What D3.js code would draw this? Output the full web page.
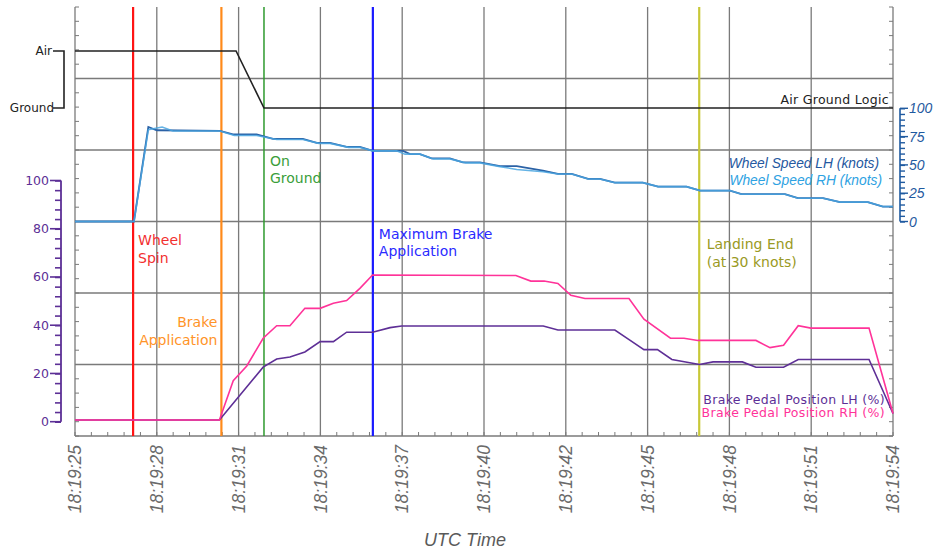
<!DOCTYPE html>
<html><head><meta charset="utf-8">
<script src="https://cdn.jsdelivr.net/npm/d3@7"></script>
<style>
html,body{margin:0;padding:0;background:#fff;}
svg{display:block;}
</style></head>
<body>
<svg id="chart" width="937" height="551"></svg>
<script>
// ---------- DATA ----------
const xTickLabels = ["18:19:25","18:19:28","18:19:31","18:19:34","18:19:37","18:19:40","18:19:42","18:19:45","18:19:48","18:19:51","18:19:54"];
const xTickSeconds = [0,2.9,5.8,8.7,11.6,14.5,17.4,20.3,23.2,26.1,29];

const airGroundTime = [0, 5.71, 6.70, 29];
const airGroundVal  = [1, 1, 0, 0];   // 1 = Air, 0 = Ground

const wheelLHTime = [0,2.09,2.60,2.90,5.14,5.60,6.44,7.02,8.08,8.57,9.04,9.63,10.10,10.56,11.63,11.88,12.23,12.64,13.29,13.75,14.36,15.07,15.66,16.59,17.12,17.61,18.19,18.61,19.14,20.13,20.67,21.68,22.16,23.22,23.63,25.17,25.63,26.52,27.12,28.11,28.64,29];
const wheelLH     = [0,0,83.5,80.6,80,76.9,76.9,73,73,69.5,69.5,66,66,62.4,62.4,59.5,59.5,55.8,55.8,52.2,52.2,49,49,44.9,42,42,37.6,37.6,34.3,34.3,30.8,30.8,27.3,27.3,24.1,24.1,20.6,20.6,17.1,17.1,13.2,13.2];
const wheelRHTime = [0,2.09,2.60,3.09,3.47,5.14,5.65,6.44,7.15,8.08,8.65,9.04,9.70,10.10,10.56,11.40,11.70,12.23,12.70,13.29,13.85,14.36,15.07,15.66,16.59,17.12,17.61,18.19,18.61,19.14,20.13,20.67,21.68,22.16,23.22,23.63,25.17,25.63,26.52,27.12,28.11,28.64,29];
const wheelRH     = [0,0,81.1,83.5,80,80,76,76,72.5,72.5,69,69,65.5,65.5,62.4,62.4,59.5,59.5,55.3,55.3,51.8,51.8,48.5,46,44,42,42,37.6,37.6,34.3,34.3,30.8,30.8,27.3,27.3,24.1,24.1,20.6,20.6,17.1,17.1,13.2,13.2];

const brakeRHTime = [0,5.12,5.61,6.09,6.67,7.15,7.62,8.15,8.69,9.16,9.63,10.10,10.55,15.63,16.16,16.63,17.12,17.58,18.08,19.64,20.17,21.11,21.59,22.08,24.14,24.64,25.12,25.64,26.09,28.15,29];
const brakeRH     = [0.7,0.7,17.0,23.1,34.6,39.8,39.8,47.0,47.0,49.1,50.2,55.3,60.8,60.6,58.3,58.3,57.3,52.4,51.1,51.1,42.5,34.6,34.6,33.7,33.7,30.7,31.7,39.8,38.8,38.8,3.4];
const brakeLHTime = [0,5.12,6.67,7.15,7.62,8.15,8.69,9.16,9.63,10.55,11.17,11.58,16.60,17.12,19.14,19.63,20.17,20.65,21.16,22.14,22.62,23.66,24.14,25.12,25.64,28.15,29];
const brakeLH     = [0.7,0.7,22.6,26.0,26.8,28.9,33.2,33.2,37.1,37.1,39.0,39.7,39.7,38.0,38.0,34.1,29.9,29.9,25.8,23.7,24.8,24.8,22.6,22.6,25.8,25.8,3.4];

const eventNames = ["Wheel\nSpin","Brake\nApplication","On\nGround","Maximum Brake\nApplication","Landing End\n(at 30 knots)"];
const eventTimes = [2.06, 5.19, 6.70, 10.56, 22.13];

const brakeAxisTicks = [0,20,40,60,80,100];
const wheelAxisTicks = [0,25,50,75,100];

// ---------- SCALES ----------
const svg = d3.select("#chart");
const x = d3.scaleLinear().domain([0,29]).range([75,893]);
const yFrame = d3.scaleLinear().domain([0,6]).range([436,7]);
const yAG = d3.scaleLinear().domain([0,1]).range([108,51]);
const yWheel = d3.scaleLinear().domain([0,100]).range([221.5,108.3]);
const yBrake = d3.scaleLinear().domain([0,100]).range([421.7,180.5]);

const gridColor = "#7a7a7a";
const DV = "'DejaVu Sans', Verdana, sans-serif";
const LS = "'Liberation Sans', Arial, sans-serif";

// ---------- GRID ----------
const grid = svg.append("g");
grid.selectAll("line.v").data(xTickSeconds).join("line")
  .attr("x1", d=>x(d)).attr("x2", d=>x(d))
  .attr("y1", yFrame(6)).attr("y2", yFrame(0))
  .attr("stroke", gridColor).attr("stroke-width", 1.3);
grid.selectAll("line.h").data([0,1,2,3,4,5]).join("line")
  .attr("x1", x(0)).attr("x2", x(29))
  .attr("y1", d=>yFrame(d)).attr("y2", d=>yFrame(d))
  .attr("stroke", gridColor).attr("stroke-width", 1.3);

const minorX = d3.range(0,51).map(i=>i*29/50);
grid.selectAll("line.mb").data(minorX).join("line")
  .attr("x1", d=>x(d)).attr("x2", d=>x(d))
  .attr("y1", yFrame(0)).attr("y2", yFrame(0)-4)
  .attr("stroke", gridColor).attr("stroke-width", 1);
const minorY = d3.range(0,31).map(i=>i/5);
grid.selectAll("line.ml").data(minorY).join("line")
  .attr("x1", x(0)).attr("x2", x(0)+4)
  .attr("y1", d=>yFrame(d)).attr("y2", d=>yFrame(d))
  .attr("stroke", gridColor).attr("stroke-width", 1);
grid.selectAll("line.mr").data(minorY).join("line")
  .attr("x1", x(29)).attr("x2", x(29)-4)
  .attr("y1", d=>yFrame(d)).attr("y2", d=>yFrame(d))
  .attr("stroke", gridColor).attr("stroke-width", 1);

// ---------- EVENT LINES ----------
const evLineColors = ["#ff1414","#ff8a1a","#2e9a2e","#1a1aff","#c8c838"];
const evTextColors = ["#f23030","#ff9428","#3a9e3a","#2a2aff","#9a9a24"];
svg.append("g").selectAll("line").data(eventTimes).join("line")
  .attr("x1", d=>x(d)).attr("x2", d=>x(d))
  .attr("y1", yFrame(6)).attr("y2", yFrame(0))
  .attr("stroke", (d,i)=>evLineColors[i])
  .attr("stroke-width", (d,i)=> i===2 ? 1.5 : 2.2);

// ---------- DATA LINES ----------
const line = (xs, ys, yScale) => d3.line().x((d,i)=>x(xs[i])).y((d,i)=>yScale(ys[i]))(ys);

svg.append("path").attr("d", line(airGroundTime, airGroundVal, yAG))
  .attr("fill","none").attr("stroke","#222").attr("stroke-width",1.6);

svg.append("path").attr("d", line(wheelLHTime, wheelLH, yWheel))
  .attr("fill","none").attr("stroke","#2b62a6").attr("stroke-width",1.8);
svg.append("path").attr("d", line(wheelRHTime, wheelRH, yWheel))
  .attr("fill","none").attr("stroke","#4aa6e0").attr("stroke-width",1.6).attr("opacity",0.85);

svg.append("path").attr("d", line(brakeLHTime, brakeLH, yBrake))
  .attr("fill","none").attr("stroke","#5e2f96").attr("stroke-width",1.6);
svg.append("path").attr("d", line(brakeRHTime, brakeRH, yBrake))
  .attr("fill","none").attr("stroke","#ff3399").attr("stroke-width",1.6);

// ---------- EVENT TEXT ----------
const evPos = [
  {dx: 5, anchor:"start", y: 245},
  {dx: -4, anchor:"end", y: 327},
  {dx: 6, anchor:"start", y: 165.5},
  {dx: 6, anchor:"start", y: 238.5},
  {dx: 7.5, anchor:"start", y: 249}
];
eventNames.forEach((name,i)=>{
  const t = svg.append("text")
    .attr("x", x(eventTimes[i]) + evPos[i].dx).attr("y", evPos[i].y)
    .attr("text-anchor", evPos[i].anchor)
    .attr("font-family", DV).attr("font-size", 14)
    .attr("fill", evTextColors[i]);
  name.split("\n").forEach((s,j)=>{
    t.append("tspan").attr("x", x(eventTimes[i]) + evPos[i].dx)
      .attr("dy", j===0 ? 0 : 17.5).text(s);
  });
});

// ---------- AIR/GROUND AXIS ----------
svg.append("path")
  .attr("d", `M53,${yAG(1)}H64V${yAG(0)}H53`)
  .attr("fill","none").attr("stroke","#222").attr("stroke-width",1.6);
svg.append("text").attr("x",52).attr("y",yAG(1)).attr("dy","0.35em")
  .attr("text-anchor","end").attr("font-family",DV).attr("font-size",12).attr("fill","#222").text("Air");
svg.append("text").attr("x",54).attr("y",yAG(0)).attr("dy","0.35em")
  .attr("text-anchor","end").attr("font-family",DV).attr("font-size",12).attr("fill","#222").text("Ground");
svg.append("text").attr("x",889).attr("y",103.5)
  .attr("text-anchor","end").attr("font-family",DV).attr("font-size",12.5).attr("letter-spacing",0.3)
  .attr("fill","#222").text("Air Ground Logic");

// ---------- BRAKE AXIS (left, purple) ----------
const purple = "#5c2f96";
const bAxis = svg.append("g").attr("transform","translate(61,0)")
  .call(d3.axisLeft(yBrake).tickValues(d3.range(0,101,4)).tickSize(6).tickFormat(""));
bAxis.select(".domain").remove();
bAxis.selectAll("line").attr("stroke",purple).attr("stroke-width",1.6);
svg.append("line").attr("x1",61).attr("x2",61).attr("y1",yBrake(100)).attr("y2",yBrake(0))
  .attr("stroke",purple).attr("stroke-width",1.8);
svg.append("g").selectAll("line").data(brakeAxisTicks).join("line")
  .attr("x1",50).attr("x2",61).attr("y1",d=>yBrake(d)).attr("y2",d=>yBrake(d))
  .attr("stroke",purple).attr("stroke-width",1.6);
svg.append("g").selectAll("text").data(brakeAxisTicks).join("text")
  .attr("x",49).attr("y",d=>yBrake(d)).attr("dy","0.35em").attr("text-anchor","end")
  .attr("font-family",DV).attr("font-size",12.5).attr("fill",purple).text(d=>d);

// ---------- WHEEL AXIS (right, blue) ----------
const blue = "#1f5aa0";
const wAxis = svg.append("g").attr("transform","translate(900,0)")
  .call(d3.axisRight(yWheel).tickValues(d3.range(0,101,5)).tickSize(5).tickFormat(""));
wAxis.select(".domain").remove();
wAxis.selectAll("line").attr("stroke",blue).attr("stroke-width",1.4);
svg.append("line").attr("x1",900).attr("x2",900).attr("y1",yWheel(100)).attr("y2",yWheel(0))
  .attr("stroke",blue).attr("stroke-width",1.6);
svg.append("g").selectAll("line").data(wheelAxisTicks).join("line")
  .attr("x1",900).attr("x2",908).attr("y1",d=>yWheel(d)).attr("y2",d=>yWheel(d))
  .attr("stroke",blue).attr("stroke-width",1.4);
svg.append("g").selectAll("text").data(wheelAxisTicks).join("text")
  .attr("x",909).attr("y",d=>yWheel(d)).attr("dy","0.36em").attr("text-anchor","start")
  .attr("font-family",LS).attr("font-style","italic").attr("font-size",14).attr("fill",blue).text(d=>d);

// ---------- SERIES LABELS ----------
svg.append("text").attr("x",879).attr("y",167.5).attr("text-anchor","end")
  .attr("font-family",LS).attr("font-style","italic").attr("font-size",13.8).attr("fill","#2458a0")
  .text("Wheel Speed LH (knots)");
svg.append("text").attr("x",882).attr("y",184.5).attr("text-anchor","end")
  .attr("font-family",LS).attr("font-style","italic").attr("font-size",13.8).attr("fill","#2ea2e2")
  .text("Wheel Speed RH (knots)");
svg.append("text").attr("x",885).attr("y",403.5).attr("text-anchor","end")
  .attr("font-family",DV).attr("font-size",12.5).attr("letter-spacing",0.35).attr("fill","#5c2f96")
  .text("Brake Pedal Position LH (%)");
svg.append("text").attr("x",885).attr("y",417).attr("text-anchor","end")
  .attr("font-family",DV).attr("font-size",12.5).attr("letter-spacing",0.35).attr("fill","#ff3399")
  .text("Brake Pedal Position RH (%)");

// ---------- X AXIS LABELS ----------
svg.append("g").selectAll("text").data(xTickSeconds).join("text")
  .attr("transform", d=>`translate(${x(d)},445) rotate(-90)`)
  .attr("dy","0.35em").attr("text-anchor","end")
  .attr("font-family",LS).attr("font-style","italic").attr("font-size",17.5).attr("fill","#6a6a6a")
  .text((d,i)=>xTickLabels[i]);
svg.append("text").attr("x",465).attr("y",546).attr("text-anchor","middle")
  .attr("font-family",LS).attr("font-style","italic").attr("font-size",18).attr("fill","#5a5a5a")
  .text("UTC Time");
</script>
</body></html>
